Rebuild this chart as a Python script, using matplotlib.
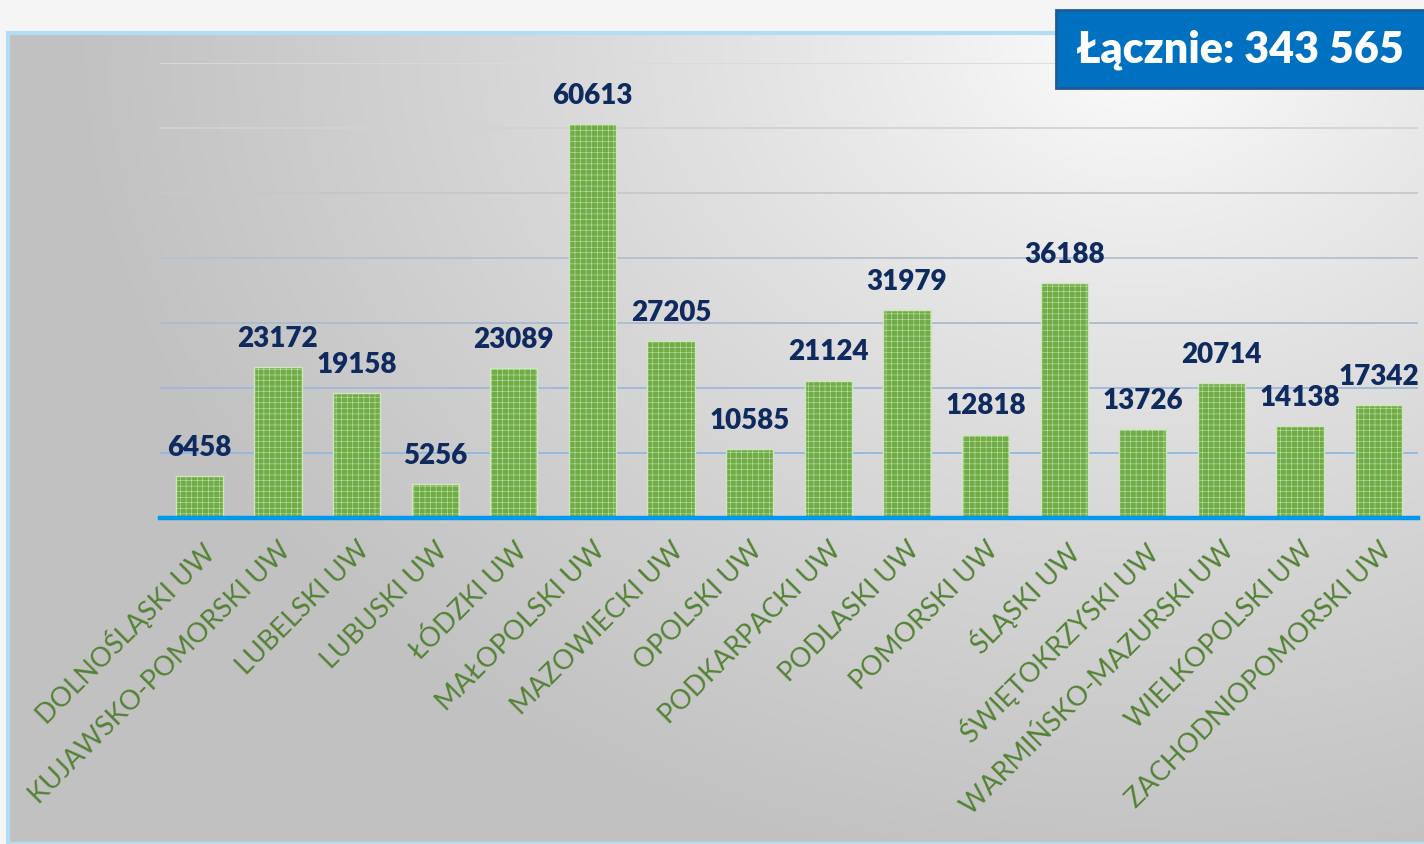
import numpy as np
import matplotlib.pyplot as plt
from matplotlib.patches import Rectangle

regions = ['DOLNOŚLĄSKI UW', 'KUJAWSKO-POMORSKI UW', 'LUBELSKI UW', 'LUBUSKI UW',
           'ŁÓDZKI UW', 'MAŁOPOLSKI UW', 'MAZOWIECKI UW', 'OPOLSKI UW',
           'PODKARPACKI UW', 'PODLASKI UW', 'POMORSKI UW', 'ŚLĄSKI UW',
           'ŚWIĘTOKRZYSKI UW', 'WARMIŃSKO-MAZURSKI UW', 'WIELKOPOLSKI UW',
           'ZACHODNIOPOMORSKI UW']
counts = [6458, 23172, 19158, 5256, 23089, 60613, 27205, 10585,
          21124, 31979, 12818, 36188, 13726, 20714, 14138, 17342]
total_label = 'Łącznie: 343 565'
grid_values = [10000, 20000, 30000, 40000, 50000, 60000, 70000]

plt.rcParams['hatch.color'] = '#7db657'
plt.rcParams['hatch.linewidth'] = 0.35

W, H = 1424, 844
fig = plt.figure(figsize=(W / 100, H / 100), dpi=100)
fig.patch.set_facecolor('#f5f5f5')

# gradient panel behind the chart
x0, ytop = 8, 33
bg = fig.add_axes([x0 / W, 0, 1 - x0 / W, 1 - ytop / H], zorder=0)
nx, ny = 400, 240
gx, gy = np.meshgrid(np.linspace(0, 1, nx), np.linspace(0, 1, ny))
d = np.sqrt(((gx - 0.8) * 1.4) ** 2 + ((gy - 0.0) * 1.0) ** 2)
shade = 1.0 - 0.24 * np.clip(d / 1.05, 0, 1) ** 0.8
img = np.dstack([shade, shade, shade])
bg.imshow(img, aspect='auto', extent=(0, 1, 1, 0), interpolation='bilinear')
bg.set_xlim(0, 1)
bg.set_ylim(1, 0)
bg.axis('off')
fig.add_artist(Rectangle((x0 / W, 0), 1, 1 - ytop / H, transform=fig.transFigure,
                         fill=False, edgecolor='#b3dcf7', linewidth=3, zorder=1))

ax = fig.add_axes([160 / W, 1 - 518 / H, (1418 - 160) / W, (518 - 63) / H], zorder=2)
ax.patch.set_alpha(0)

x = np.arange(len(regions))
ax.bar(x, counts, width=0.6, color='#70ad47', edgecolor='#cfe6bd', linewidth=1.0,
       hatch='+++', zorder=3)

grid_colors = ['#8fb9e0', '#9dbad8', '#aabbd0', '#b6c0cc', '#c4c8cd', '#d2d2d2', '#dadada']
for gv, gc in zip(grid_values, grid_colors):
    ax.axhline(gv, color=gc, linewidth=1.3, zorder=1)
ax.axhline(0, color='#0099ee', linewidth=3.2, zorder=4, clip_on=False)

for xi, v in zip(x, counts):
    ax.annotate(f'{v}', (xi, v), xytext=(0, 11), textcoords='offset points',
                ha='center', va='bottom', fontsize=20, fontweight='heavy',
                color='#0f2a5f', family='Lato', zorder=5)

ax.set_xlim(-0.5, len(regions) - 0.5)
ax.set_ylim(0, 70000)
ax.set_yticks([])
ax.set_xticks(x)
ax.set_xticklabels(regions, rotation=45, ha='right', rotation_mode='anchor',
                   fontsize=19.5, color='#548235', family='Lato')
ax.tick_params(axis='x', length=0, pad=14)
for s in ax.spines.values():
    s.set_visible(False)

fig.add_artist(Rectangle((1056 / W, 1 - 88 / H), (W + 10 - 1056) / W, 78 / H,
                         transform=fig.transFigure, facecolor='#0070c0',
                         edgecolor='#1d5a96', linewidth=2, zorder=10))
fig.text(1240 / W, 1 - 50 / H, total_label, ha='center', va='center', fontsize=31,
         fontweight='heavy', color='white', family='Lato', zorder=11)

fig.savefig('out.png', dpi=100)
